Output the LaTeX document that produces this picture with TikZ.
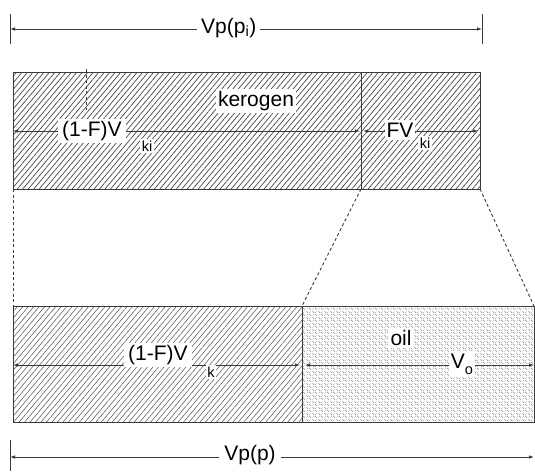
\documentclass[tikz,border=0pt]{standalone}
\usepackage{fontspec}
\setmainfont{Liberation Sans}
\usetikzlibrary{patterns.meta,arrows.meta}
\definecolor{ln}{HTML}{3A3A3A}
\definecolor{hatch}{HTML}{454545}
\definecolor{hatchlight}{HTML}{5A5A5A}
\tikzdeclarepattern{
  name=oilweave, type=uncolored,
  bottom left={(0pt,0pt)}, top right={(6pt,6pt)}, tile size={(6pt,6pt)},
  parameters={},
  code={
    \draw[line width=0.6pt] (0.6pt,5.4pt) -- (2.6pt,3.4pt);
    \draw[line width=0.6pt] (3.6pt,2.4pt) -- (5.6pt,0.4pt);
    \draw[line width=0.35pt] (3.6pt,3.6pt) -- (5.2pt,5.2pt);
    \draw[line width=0.35pt] (0.6pt,0.6pt) -- (2.2pt,2.2pt);
  }
}
\begin{document}
\begin{tikzpicture}[x=1pt,y=-1pt,
  tip/.tip={Latex[length=5pt,width=3.6pt]},
  dim/.style={draw=ln, line width=0.9pt, tip-tip},
  tick/.style={draw=ln, line width=0.9pt},
  lbl/.style={fill=white, inner sep=2.5pt, text=black, font=\fontsize{21}{25}\selectfont},
  sublbl/.style={fill=white, inner sep=1.5pt, text=black, font=\fontsize{14.5}{16}\selectfont},
  guide/.style={draw=ln, line width=0.9pt, dash pattern=on 3pt off 2.5pt},
  boxline/.style={draw=ln, line width=1pt},
  hatchfill/.style={pattern={Lines[angle=50,distance=4.2pt,line width=0.7pt]}, pattern color=hatch},
  hatchlightfill/.style={pattern={Lines[angle=50,distance=4.2pt,line width=0.55pt]}, pattern color=hatchlight},
  oilfill/.style={pattern=oilweave, pattern color=gray}]
\useasboundingbox (0,0) rectangle (535,471);

% coordinates
\coordinate (uTL) at (13,72);
\coordinate (uBR) at (480,189);
\coordinate (uDivT) at (361,72);
\coordinate (uDivB) at (361,189);
\coordinate (uBL) at (13,189);
\coordinate (lTL) at (13,306);
\coordinate (lBR) at (534,422);
\coordinate (lDivT) at (302,306);
\coordinate (lDivB) at (302,422);
\coordinate (lTR) at (534,306);

% upper box
\fill[hatchfill] (uTL) rectangle (uBR);
\draw[boxline] (uTL) rectangle (uBR);
\draw[boxline] (uDivT) -- (uDivB);

% lower box
\fill[hatchlightfill] (lTL) rectangle (lDivB);
\fill[oilfill] (lDivT) rectangle (lBR);
\draw[boxline] (lTL) rectangle (lBR);
\draw[boxline] (lDivT) -- (lDivB);

% guides
\draw[guide] (uBL) -- (lTL);
\draw[guide] (uDivB) -- (lDivT);
\draw[guide] (uBR) -- (lTR);
\coordinate (dashT) at (86.5,69);
\coordinate (dashB) at (86.5,110);
\draw[guide] (dashT) -- (dashB);

% top dimension
\coordinate (tL1) at (10,14); \coordinate (tL2) at (10,44);
\coordinate (tR1) at (482,14); \coordinate (tR2) at (482,44);
\draw[tick] (tL1) -- (tL2);
\draw[tick] (tR1) -- (tR2);
\coordinate (tA) at (10,29); \coordinate (tB) at (482,29);
\draw[dim] (tA) -- (tB);
\node[lbl, anchor=west, inner xsep=4pt] (vpi) at (197,28) {Vp(p\textsubscript{i})\hspace{11pt}};

% upper dimension lines
\coordinate (u1a) at (13,131); \coordinate (u1b) at (360,131);
\coordinate (u2a) at (363,131); \coordinate (u2b) at (478,131);
\draw[dim] (u1a) -- (u1b);
\draw[dim] (u2a) -- (u2b);
\node[lbl] (ker) at (256,101) {kerogen};
\node[lbl, anchor=west, inner xsep=4pt] (omfu) at (58,131) {(1-F)V\hspace{19pt}};
\node[sublbl] (kiu) at (147,146) {ki};
\node[lbl, inner xsep=2pt] (fv) at (400,130) {FV};
\node[sublbl] (kiu2) at (425,143) {ki};

% lower dimension lines
\coordinate (l1a) at (13,365); \coordinate (l1b) at (300,365);
\coordinate (l2a) at (305,365); \coordinate (l2b) at (534,365);
\draw[dim] (l1a) -- (l1b);
\draw[dim] (l2a) -- (l2b);
\node[lbl] (oil) at (401,338) {oil};
\node[lbl, anchor=west, inner xsep=4pt] (omfl) at (124,355) {(1-F)V\hspace{17pt}};
\node[sublbl] (kl) at (211,372) {k};
\node[lbl, inner xsep=2pt] (vo) at (462,364) {V\raisebox{-6pt}{\fontsize{14.5}{16}\selectfont o}};

% bottom dimension
\coordinate (bL1) at (10,440); \coordinate (bL2) at (10,471);
\draw[tick] (bL1) -- (bL2);
\coordinate (bA) at (10,457); \coordinate (bB) at (534,457);
\draw[dim] (bA) -- (bB);
\node[lbl, inner xsep=5pt] (vp) at (250,455) {Vp(p)};
\end{tikzpicture}
\end{document}
